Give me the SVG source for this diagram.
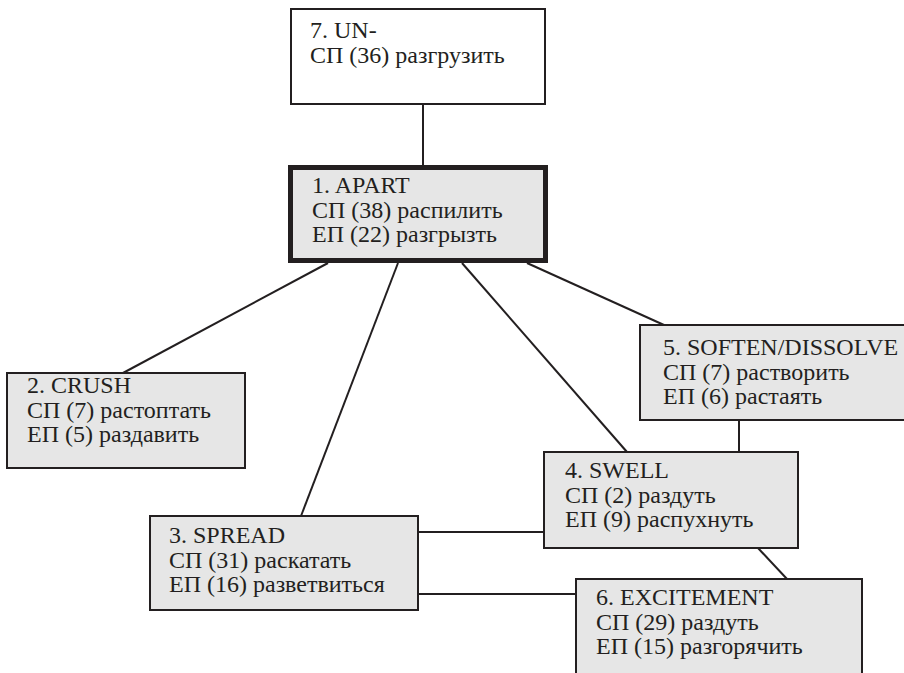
<svg xmlns="http://www.w3.org/2000/svg" width="904" height="673" viewBox="0 0 904 673">
<style>
.bg{fill:#ffffff}
.box{fill:#e6e6e6;stroke:#231f20;stroke-width:2}
.white{fill:#ffffff;stroke:#231f20;stroke-width:2}
.main{fill:#e6e6e6;stroke:#231f20;stroke-width:5}
.edge{stroke:#231f20;stroke-width:2;fill:none}
.t{font-family:'Liberation Serif','DejaVu Serif',serif;font-size:24px;fill:#231f20}
</style>
<rect class="bg" x="0" y="0" width="904" height="673"/>
<g id="connectors">
<line class="edge" x1="423" y1="104" x2="423" y2="166"/>
<line class="edge" x1="328" y1="263" x2="123" y2="373"/>
<line class="edge" x1="398" y1="263" x2="301" y2="516"/>
<line class="edge" x1="462" y1="263" x2="627" y2="452"/>
<line class="edge" x1="527" y1="263" x2="664" y2="325"/>
<line class="edge" x1="739" y1="420" x2="739" y2="452"/>
<line class="edge" x1="418" y1="532" x2="544" y2="532"/>
<line class="edge" x1="418" y1="594" x2="576" y2="594"/>
<line class="edge" x1="758" y1="548" x2="787" y2="579"/>
</g>
<g id="n7" class="t">
<rect class="white" x="291" y="9" width="254" height="95"/>
<text x="310" y="38">7. UN-</text>
<text x="310" y="63">СП (36) разгрузить</text>
</g>
<g id="n1" class="t">
<rect class="main" x="290.5" y="167.5" width="255" height="93"/>
<text x="312" y="193">1. APART</text>
<text x="312" y="217.5">СП (38) распилить</text>
<text x="312" y="242">ЕП (22) разгрызть</text>
</g>
<g id="n2" class="t">
<rect class="box" x="7" y="373" width="238" height="95"/>
<text x="27" y="393">2. CRUSH</text>
<text x="27" y="417.5">СП (7) растоптать</text>
<text x="27" y="442">ЕП (5) раздавить</text>
</g>
<g id="n3" class="t">
<rect class="box" x="150" y="516" width="268" height="94"/>
<text x="169" y="543">3. SPREAD</text>
<text x="169" y="567.5">СП (31) раскатать</text>
<text x="169" y="592">ЕП (16) разветвиться</text>
</g>
<g id="n4" class="t">
<rect class="box" x="544" y="452" width="254" height="96"/>
<text x="565" y="478">4. SWELL</text>
<text x="565" y="502.5">СП (2) раздуть</text>
<text x="565" y="527">ЕП (9) распухнуть</text>
</g>
<g id="n5" class="t">
<rect class="box" x="640" y="325" width="270" height="95"/>
<text x="663" y="355">5. SOFTEN/DISSOLVE</text>
<text x="663" y="379.5">СП (7) растворить</text>
<text x="663" y="404">ЕП (6) растаять</text>
</g>
<g id="n6" class="t">
<rect class="box" x="576" y="579" width="286" height="110"/>
<text x="596" y="605">6. EXCITEMENT</text>
<text x="596" y="629.5">СП (29) раздуть</text>
<text x="596" y="654">ЕП (15) разгорячить</text>
</g>
</svg>
